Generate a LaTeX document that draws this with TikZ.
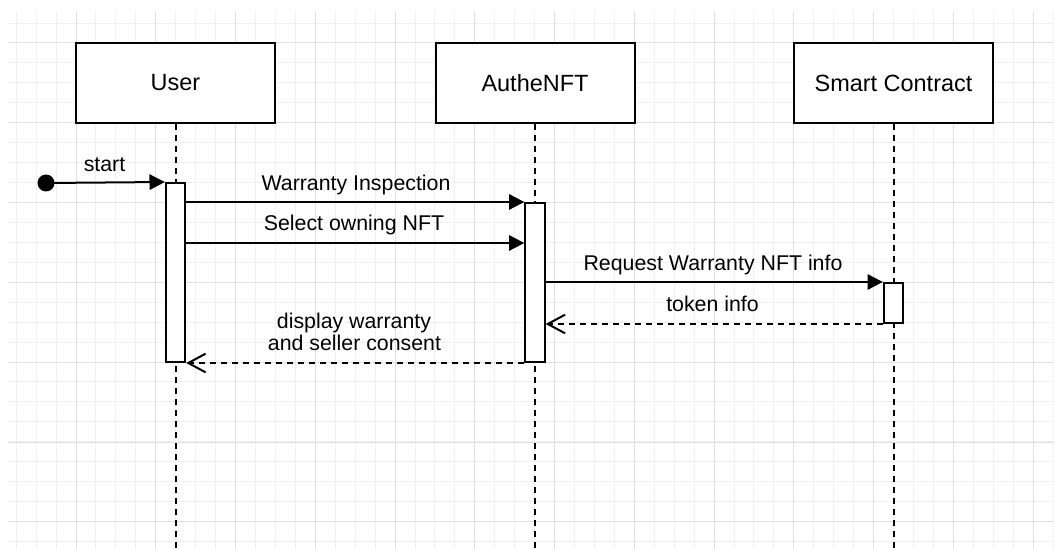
\documentclass[tikz,border=0pt]{standalone}
\usepackage{fontspec}
\setmainfont{Liberation Sans}
\usetikzlibrary{arrows.meta}
\begin{document}
\begin{tikzpicture}[x=0.75pt,y=-0.75pt,
  lbox/.style={draw=black, line width=1.5pt, fill=white, minimum width=149.25pt, minimum height=60pt, inner sep=0pt, font=\fontsize{17.6}{21}\selectfont},
  lifeline/.style={line width=1.5pt, dash pattern=on 4.5pt off 3.75pt},
  actbar/.style={draw=black, line width=1.5pt, fill=white, minimum width=14.5pt, inner sep=0pt},
  msg/.style={line width=1.5pt, -{Triangle[length=11.5pt,width=11.5pt]}},
  ret/.style={line width=1.5pt, dash pattern=on 4.5pt off 3.75pt, -{Straight Barb[length=13pt,width=14pt]}},
  lbl/.style={anchor=base, inner sep=0pt, font=\fontsize{16}{22}\selectfont},
  gminor/.style={draw=black!6, line width=0.75pt},
  gmajor/.style={draw=black!12, line width=0.75pt}]
\useasboundingbox[fill=white] (0,0) rectangle (1054,549);
% grid
\foreach \xx in {16.2,36.14,...,1054} \draw[gminor] (\xx,11) -- (\xx,549);
\foreach \yy in {23.06,43,...,549} \draw[gminor] (8,\yy) -- (1054,\yy);
\foreach \xx in {76,155.75,...,1054} \draw[gmajor] (\xx,11) -- (\xx,549);
\foreach \yy in {43,122.8,...,549} \draw[gmajor] (8,\yy) -- (1054,\yy);
% heads
\node[lbox] (user) at (175.5,83) {User};
\node[lbox] (authe) at (535,83) {AutheNFT};
\node[lbox] (sc) at (893.5,83) {Smart Contract};
% lifelines
\coordinate (ue) at (175.5,549);
\coordinate (ae) at (535,549);
\coordinate (se) at (893.5,549);
\draw[lifeline] (user.south) -- (ue);
\draw[lifeline] (authe.south) -- (ae);
\draw[lifeline] (sc.south) -- (se);
% activation bars
\node[actbar, minimum height=134.25pt] (ub) at (175.5,272.5) {};
\node[actbar, minimum height=119.25pt] (ab) at (535,282.5) {};
\node[actbar, minimum height=30pt] (sb) at (893.5,303) {};
% start
\node[circle, fill=black, minimum size=12.75pt, inner sep=0pt] (dot) at (46,183) {};
\draw[msg] (dot.center) -- (ub.north west);
\node[lbl] (lstart) at (104.5,172) {start};
% messages
\draw[msg] (ub.east |- ab.north west) -- (ab.north west);
\node[lbl] (l1) at (356,191) {Warranty Inspection};
\draw[msg] (ub.east |- 0,243) -- (ab.west |- 0,243);
\node[lbl] (l2) at (354,231) {Select owning NFT};
\draw[msg] (ab.east |- sb.north west) -- (sb.north west);
\node[lbl] (l3) at (713,271) {Request Warranty NFT info};
\draw[ret] (sb.south west) -- (ab.east |- sb.south west);
\node[lbl] (l4) at (712.5,311) {token info};
\draw[ret] (ab.south west) -- (ub.south east);
\node[lbl] (l5a) at (354,328) {display warranty};
\node[lbl] (l5b) at (354.5,350) {and seller consent};
\end{tikzpicture}
\end{document}
